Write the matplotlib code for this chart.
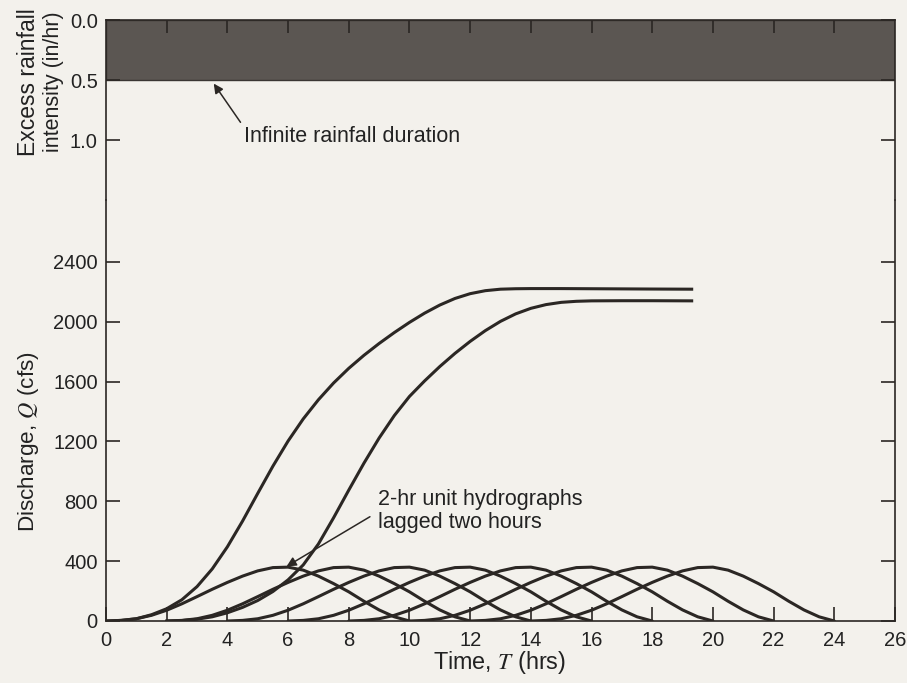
import matplotlib
matplotlib.use("Agg")
import matplotlib.pyplot as plt
import numpy as np

plt.rcParams['font.family'] = ['Liberation Sans', 'DejaVu Sans']
plt.rcParams['mathtext.fontset'] = 'stix'

# ---------------- data ----------------
# excess rainfall (infinite duration, constant intensity)
rain_start = [0.0]
rain_width = [26.0]
rain_intensity = [0.5]

# 2-hr unit hydrograph ordinates (time since start of the UH, hrs; cfs)
uh_t = [0, 0.5, 1, 1.5, 2, 2.5, 3, 3.5, 4, 4.5, 5, 5.5, 6, 6.5, 7, 7.5, 8, 8.5, 9, 9.5, 10]
uh_q = [0, 4, 15, 38, 72, 115, 163, 212, 258, 300, 335, 357, 360, 340, 300, 250, 195, 132, 74, 28, 0]
uh_lags = [0, 2, 4, 6, 8, 10, 12, 14]

# S-curve
s1_t = [0, 0.5, 1, 1.5, 2, 2.5, 3, 3.5, 4, 4.5, 5, 5.5, 6, 6.5, 7, 7.5, 8, 8.5, 9, 9.5,
        10, 10.5, 11, 11.5, 12, 12.5, 13, 13.5, 14, 15, 16, 17, 18, 19.3]
s1_q = [0, 4, 15, 42, 82, 142, 230, 348, 496, 668, 853, 1035, 1203, 1351, 1479, 1591, 1689,
        1776, 1855, 1928, 1996, 2058, 2112, 2156, 2188, 2208, 2218, 2221, 2222, 2222, 2221,
        2220, 2219, 2218]

# S-curve lagged two hours
s2_t = [2, 2.5, 3, 3.5, 4, 4.5, 5, 5.5, 6, 6.5, 7, 7.5, 8, 8.5, 9, 9.5, 10, 10.5, 11, 11.5,
        12, 12.5, 13, 13.5, 14, 14.5, 15, 15.5, 16, 17, 18, 19.3]
s2_q = [0, 3, 12, 28, 55, 91, 137, 197, 275, 375, 515, 690, 875, 1055, 1223, 1373, 1501, 1605,
        1701, 1789, 1869, 1941, 2003, 2053, 2090, 2115, 2130, 2137, 2140, 2141, 2141, 2140]

x_ticks = list(range(0, 27, 2))
q_ticks = [0, 400, 800, 1200, 1600, 2000, 2400]
i_ticks = [0.0, 0.5, 1.0]
i_tick_labels = ['0.0', '0.5', '1.0']

# ---------------- figure ----------------
W, H = 907, 683
bg = '#f3f1ec'
ink = '#2b2724'
fig = plt.figure(figsize=(W / 100, H / 100), dpi=100)
fig.patch.set_facecolor(bg)

x0, x1 = 106, 895
top_y0, split_y, bot_y = 20, 200, 621
ax_top = fig.add_axes([x0 / W, 1 - split_y / H, (x1 - x0) / W, (split_y - top_y0) / H])
ax = fig.add_axes([x0 / W, 1 - bot_y / H, (x1 - x0) / W, (bot_y - split_y) / H])

for a in (ax_top, ax):
    a.set_facecolor('none')
    for s in a.spines.values():
        s.set_linewidth(1.2)
        s.set_color(ink)
    a.set_xlim(0, 26)

# ---- top: rainfall ----
ax_top.bar(rain_start, rain_intensity, width=rain_width, align='edge', bottom=0,
           color='#5b5652', edgecolor='#3a3633', linewidth=1.0, zorder=1)
ax_top.set_ylim(1.5, 0)
ax_top.spines['bottom'].set_visible(False)
ax_top.set_yticks(i_ticks)
ax_top.set_yticklabels(i_tick_labels)
ax_top.xaxis.tick_top()
ax_top.set_xticks(list(range(2, 25, 2)))
ax_top.set_xticklabels([])
ax_top.tick_params(axis='x', which='both', direction='in', length=9, width=1.2,
                   colors='#2a2624', top=True, bottom=False)
ax_top.tick_params(axis='y', direction='in', length=10, width=1.2, colors=ink,
                   left=True, right=True, labelsize=14.5, labelcolor='#222', pad=6)

ax_top.annotate('Infinite rainfall duration', xy=(3.55, 0.53), xytext=(4.55, 0.97),
                fontsize=15.5, color='#222', ha='left', va='center',
                arrowprops=dict(arrowstyle='-|>', color=ink, lw=1.1,
                                mutation_scale=14, shrinkA=1, shrinkB=0,
                                relpos=(-0.005, 1.0)))

# ---- bottom: hydrographs ----
lw = 2.2
for lag in uh_lags:
    ax.plot(np.array(uh_t) + lag, uh_q, color=ink, lw=lw, solid_capstyle='round')
ax.plot(s1_t, s1_q, color=ink, lw=lw)
ax.plot(s2_t, s2_q, color=ink, lw=lw)

ax.set_ylim(0, (bot_y - split_y) / 0.1496)
ax.spines['top'].set_visible(False)
ax.set_xticks(x_ticks)
ax.set_yticks(q_ticks)
ax.tick_params(axis='both', direction='in', length=10, width=1.2, colors=ink,
               labelsize=14.5, labelcolor='#222')
ax.tick_params(axis='y', left=True, right=True, pad=6)
ax.tick_params(axis='x', bottom=True, top=False, pad=7)

ax.annotate('2-hr unit hydrographs\nlagged two hours', xy=(5.95, 365), xytext=(8.95, 735),
            fontsize=15.5, color='#222', ha='left', va='center', linespacing=1.15,
            arrowprops=dict(arrowstyle='-|>', color=ink, lw=1.1,
                            mutation_scale=14, shrinkA=3, shrinkB=0,
                            relpos=(-0.02, 0.42)))

# ---- axis labels ----
fig.text(500 / W, 1 - 663 / H, 'Time, $T$ (hrs)', ha='center', va='center',
         fontsize=16.8, color='#222')
fig.text(29 / W, 1 - 442 / H, 'Discharge, $Q$ (cfs)', ha='center', va='center',
         rotation=90, fontsize=16.2, color='#222')
fig.text(29 / W, 1 - 82 / H, 'Excess rainfall', ha='center', va='center',
         rotation=90, fontsize=16.5, color='#222')
fig.text(54 / W, 1 - 82 / H, 'intensity (in/hr)', ha='center', va='center',
         rotation=90, fontsize=15.5, color='#222')

fig.savefig('out.png', dpi=100, facecolor=bg)
